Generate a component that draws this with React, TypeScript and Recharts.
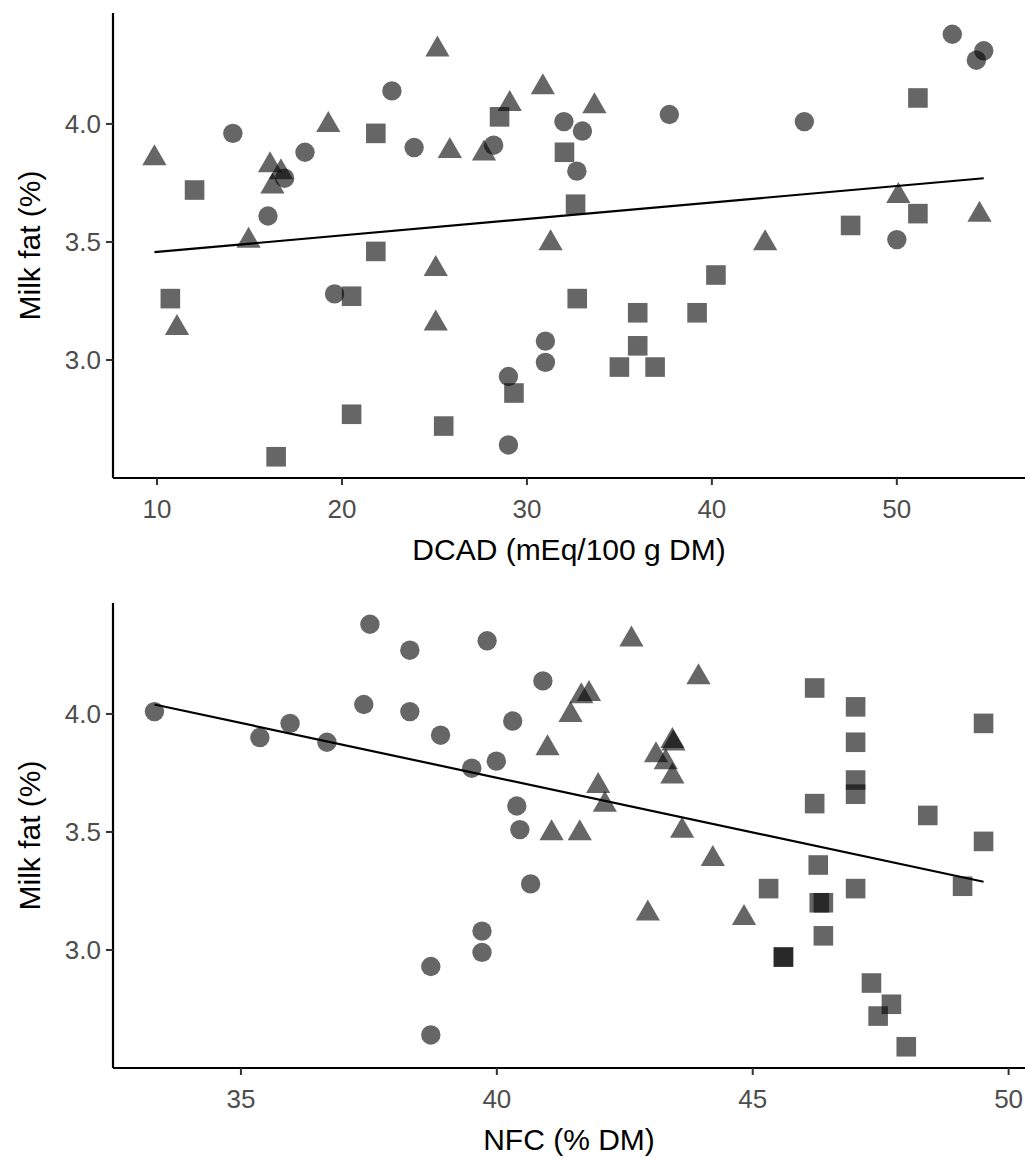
import { ReferenceLine, Scatter, ScatterChart, XAxis, YAxis } from "recharts";

// Milk fat (%) against DCAD and NFC, one array per marker group.
// Circle group
const circleFat = [4.38, 4.31, 4.27, 4.14, 4.04, 4.01, 4.01, 3.97, 3.96, 3.91, 3.9, 3.88, 3.8, 3.77, 3.61, 3.51, 3.28, 3.08, 2.99, 2.93, 2.64];
const circleDcad = [53.0, 54.7, 54.3, 22.7, 37.7, 32.0, 45.0, 33.0, 14.1, 28.2, 23.9, 18.0, 32.7, 16.9, 16.0, 50.0, 19.6, 31.0, 31.0, 29.0, 29.0];
const circleNfc = [37.52, 39.81, 38.3, 40.9, 37.4, 33.31, 38.3, 40.31, 35.96, 38.9, 35.37, 36.68, 39.99, 39.51, 40.39, 40.45, 40.66, 39.71, 39.71, 38.71, 38.71];

// Triangle group
const triangleFat = [4.315, 4.155, 4.085, 4.075, 3.995, 3.885, 3.875, 3.855, 3.825, 3.795, 3.735, 3.695, 3.615, 3.505, 3.495, 3.495, 3.385, 3.155, 3.135];
const triangleDcad = [25.16, 30.86, 29.07, 33.65, 19.26, 25.83, 27.68, 9.86, 16.11, 16.7, 16.24, 50.08, 54.47, 14.95, 42.88, 31.28, 25.07, 25.07, 11.08];
const triangleNfc = [42.63, 43.94, 41.8, 41.65, 41.44, 43.43, 43.45, 40.99, 43.11, 43.3, 43.43, 41.98, 42.11, 43.62, 41.07, 41.62, 44.22, 42.95, 44.83];

// Square group
const squareFat = [4.11, 4.03, 3.96, 3.88, 3.72, 3.66, 3.62, 3.57, 3.46, 3.36, 3.27, 3.26, 3.26, 3.2, 3.2, 3.06, 2.97, 2.97, 2.86, 2.77, 2.72, 2.59];
const squareDcad = [51.14, 28.52, 21.83, 32.03, 12.03, 32.63, 51.14, 47.5, 21.83, 40.22, 20.52, 10.72, 32.72, 35.99, 39.2, 35.99, 35.0, 36.93, 29.3, 20.52, 25.5, 16.44];
const squareNfc = [46.21, 47.01, 49.51, 47.01, 47.01, 47.01, 46.21, 48.42, 49.51, 46.28, 49.1, 45.31, 47.01, 46.3, 46.38, 46.38, 45.6, 45.6, 47.32, 47.71, 47.45, 48.0];

// fitted lines, read at their end points
const dcadFit = [
  { x: 9.86, y: 3.457 },
  { x: 54.7, y: 3.77 },
];
const nfcFit = [
  { x: 33.31, y: 4.04 },
  { x: 49.51, y: 3.289 },
];

const dcadTicks = [10, 20, 30, 40, 50];
const nfcTicks = [35, 40, 45, 50];
const fatTicks = [3.0, 3.5, 4.0];

const FONT = "'Liberation Sans', Arial, sans-serif";
const TICK_INK = "#4d4d4d";
const POINT_OPACITY = 0.6;

type Kind = "circle" | "square" | "triangle";

const pts = (xs: number[], ys: number[]) => xs.map((x, i) => ({ x, y: ys[i] }));

function Marker({ cx, cy, kind }: { cx?: number; cy?: number; kind: Kind }) {
  if (cx == null || cy == null) return <g />;
  if (kind === "circle") {
    return <circle cx={cx} cy={cy} r={9.7} fill="#000" fillOpacity={POINT_OPACITY} />;
  }
  if (kind === "square") {
    return <rect x={cx - 9.8} y={cy - 9.8} width={19.6} height={19.6} fill="#000" fillOpacity={POINT_OPACITY} />;
  }
  const r = 14;
  const hw = (r * Math.sqrt(3)) / 2;
  return (
    <polygon
      points={`${cx},${cy - r} ${cx - hw},${cy + r / 2} ${cx + hw},${cy + r / 2}`}
      fill="#000"
      fillOpacity={POINT_OPACITY}
    />
  );
}

function Panel({
  height,
  xDomain,
  xTicks,
  xLabel,
  xAxisHeight,
  circles,
  triangles,
  squares,
  fit,
}: {
  height: number;
  xDomain: [number, number];
  xTicks: number[];
  xLabel: string;
  xAxisHeight: number;
  circles: number[];
  triangles: number[];
  squares: number[];
  fit: { x: number; y: number }[];
}) {
  return (
    <ScatterChart width={1030} height={height} margin={{ top: 13, right: 5, bottom: 0, left: 0 }}>
      <XAxis
        type="number"
        dataKey="x"
        domain={xDomain}
        ticks={xTicks}
        allowDataOverflow
        height={xAxisHeight}
        axisLine={{ stroke: "#000", strokeWidth: 2.2 }}
        tickLine={{ stroke: "#333", strokeWidth: 2 }}
        tickSize={7}
        tickMargin={15}
        tick={{ fill: TICK_INK, fontSize: 26, fontFamily: FONT }}
        label={{
          content: (p: any) => (
            <text
              x={p.viewBox.x + p.viewBox.width / 2}
              y={p.viewBox.y + 82}
              textAnchor="middle"
              fill="#000"
              fontSize={30}
              fontFamily={FONT}
            >
              {xLabel}
            </text>
          ),
        }}
      />
      <YAxis
        type="number"
        dataKey="y"
        domain={[2.5, 4.47]}
        ticks={fatTicks}
        allowDataOverflow
        width={113}
        tickFormatter={(v: number) => v.toFixed(1)}
        axisLine={{ stroke: "#000", strokeWidth: 2.2 }}
        tickLine={{ stroke: "#333", strokeWidth: 2 }}
        tickSize={7}
        tickMargin={5}
        tick={{ fill: TICK_INK, fontSize: 26, fontFamily: FONT }}
        label={{
          content: (p: any) => {
            const cy = p.viewBox.y + p.viewBox.height / 2;
            return (
              <text
                x={30}
                y={cy}
                dy={10}
                transform={`rotate(-90 30 ${cy})`}
                textAnchor="middle"
                fill="#000"
                fontSize={30}
                fontFamily={FONT}
              >
                Milk fat (%)
              </text>
            );
          },
        }}
      />
      <Scatter
        data={pts(circles, circleFat)}
        shape={(p: any) => <Marker cx={p.cx} cy={p.cy} kind="circle" />}
        isAnimationActive={false}
      />
      <Scatter
        data={pts(triangles, triangleFat)}
        shape={(p: any) => <Marker cx={p.cx} cy={p.cy} kind="triangle" />}
        isAnimationActive={false}
      />
      <Scatter
        data={pts(squares, squareFat)}
        shape={(p: any) => <Marker cx={p.cx} cy={p.cy} kind="square" />}
        isAnimationActive={false}
      />
      <ReferenceLine segment={fit} stroke="#000" strokeWidth={2.2} ifOverflow="visible" />
    </ScatterChart>
  );
}

export default function App() {
  return (
    <div style={{ position: "absolute", left: 0, top: 0, width: 1030, height: 1158, background: "#fff" }}>
      <Panel
        height={590}
        xDomain={[7.62, 56.93]}
        xTicks={dcadTicks}
        xLabel="DCAD (mEq/100 g DM)"
        xAxisHeight={112}
        circles={circleDcad}
        triangles={triangleDcad}
        squares={squareDcad}
        fit={dcadFit}
      />
      <Panel
        height={568}
        xDomain={[32.5, 50.32]}
        xTicks={nfcTicks}
        xLabel="NFC (% DM)"
        xAxisHeight={90}
        circles={circleNfc}
        triangles={triangleNfc}
        squares={squareNfc}
        fit={nfcFit}
      />
    </div>
  );
}
